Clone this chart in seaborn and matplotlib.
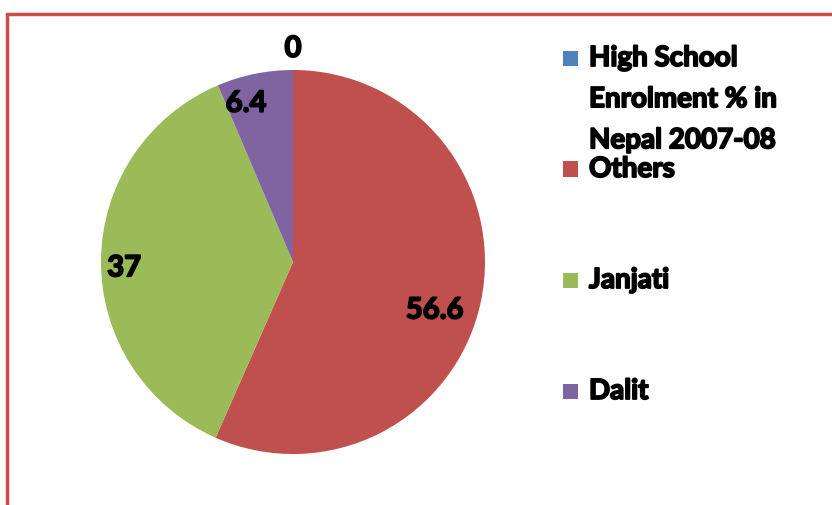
import numpy as np
import matplotlib
matplotlib.use("Agg")
import matplotlib.pyplot as plt
import matplotlib.patheffects as pe
import seaborn as sns
from matplotlib.lines import Line2D
from matplotlib.patches import Rectangle

categories = ["High School\nEnrolment % in\nNepal 2007-08", "Others", "Janjati", "Dalit"]
values = [0, 56.6, 37, 6.4]
value_labels = ["0", "56.6", "37", "6.4"]
colors = sns.color_palette(["#4F81BD", "#C0504D", "#9BBB59", "#8064A2"])

sns.set_theme(style="white")
plt.rcParams['font.family'] = ['Lato', 'DejaVu Sans']

heavy = [pe.withStroke(linewidth=1.3, foreground="black")]

W, H = 832, 506
fig = plt.figure(figsize=(W / 100, H / 100), dpi=100)
fig.patch.set_facecolor("white")

cx, cy, r = 293, 263, 192
ax = fig.add_axes([(cx - r) / W, (H - cy - r) / H, 2 * r / W, 2 * r / H])
wedges, _ = ax.pie(values, colors=colors, startangle=90, counterclock=False,
                   wedgeprops=dict(linewidth=0))
ax.set_xlim(-1, 1)
ax.set_ylim(-1, 1)
ax.set_aspect("equal")
ax.axis("off")

# data labels positioned from wedge angles
label_r = [1.11, 0.78, 0.88, 0.86]
label_shift = [0, -7, 2.5, 5]
for w, lab, rr, sh in zip(wedges, value_labels, label_r, label_shift):
    ang = np.deg2rad((w.theta1 + w.theta2) / 2 + sh)
    ax.text(rr * np.cos(ang), rr * np.sin(ang), lab, ha="center", va="center",
            fontsize=21, fontweight="bold", color="black", clip_on=False,
            path_effects=heavy)

# legend drawn manually to mimic spacing
leg_top = 59
spacing = 111
sq = 15
for i, (cat, col) in enumerate(zip(categories, colors)):
    yc = leg_top + i * spacing
    fig.patches.append(Rectangle((563 / W, 1 - (yc + sq / 2) / H), sq / W, sq / H,
                                 transform=fig.transFigure, facecolor=col,
                                 edgecolor="none", figure=fig))
    fig.text(589 / W, 1 - (yc - 13) / H, cat, ha="left", va="top", fontsize=20,
             fontweight="bold", color="black", linespacing=1.72,
             path_effects=heavy)

# chart border (top and left visible)
bc = "#D04A48"
fig.add_artist(Line2D([7 / W, 7 / W], [0, 1 - 15 / H], color=bc, lw=2.5,
                      transform=fig.transFigure))
fig.add_artist(Line2D([7 / W, 1], [1 - 15 / H, 1 - 15 / H], color=bc, lw=2.5,
                      transform=fig.transFigure))

fig.savefig("out.png", dpi=100, facecolor="white")
